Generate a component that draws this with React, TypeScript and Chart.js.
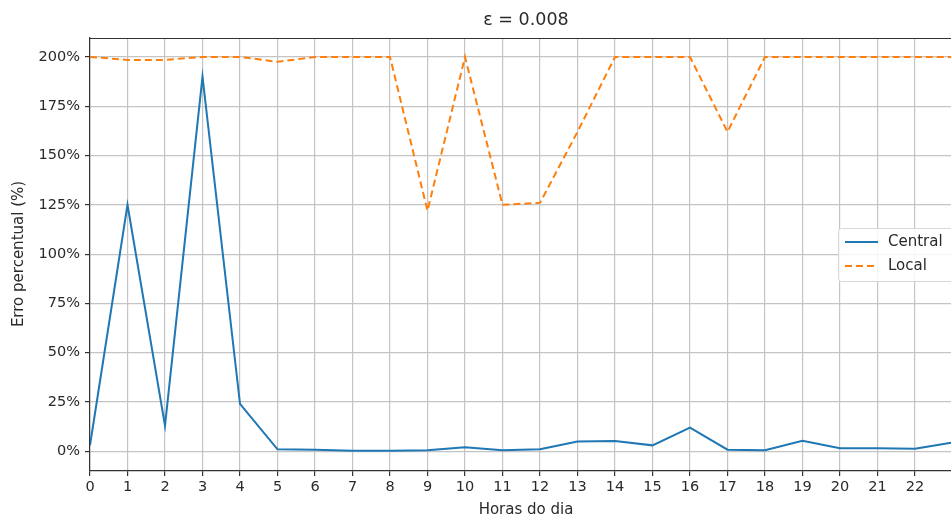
import React, { useEffect, useRef } from "react";
import { Chart, registerables } from "chart.js";

Chart.register(...registerables);

const hours = [0, 1, 2, 3, 4, 5, 6, 7, 8, 9, 10, 11, 12, 13, 14, 15, 16, 17, 18, 19, 20, 21, 22, 23];
const central = [3, 125, 13, 190, 24, 1, 0.8, 0.3, 0.3, 0.5, 2, 0.5, 1, 5, 5.2, 3, 12, 0.8, 0.5, 5.3, 1.5, 1.5, 1.3, 4.5];
const local = [200, 198.5, 198.5, 200, 200, 197.5, 200, 200, 200, 122, 200, 125, 126, 162, 200, 200, 200, 162, 200, 200, 200, 200, 200, 200];
const yTicks = [0, 25, 50, 75, 100, 125, 150, 175, 200];
const title = "ε = 0.008";
const xLabel = "Horas do dia";
const yLabel = "Erro percentual (%)";
const seriesNames = ["Central", "Local"];

const FONT = "'DejaVu Sans', sans-serif";
const BLUE = "#1f77b4";
const ORANGE = "#ff7f0e";
const TEXT = "#2a2a2a";

const decor = {
  id: "decor",
  afterDraw(chart: any) {
    const { ctx, chartArea } = chart;
    ctx.save();
    // top spine
    ctx.strokeStyle = "#333";
    ctx.lineWidth = 1.2;
    ctx.beginPath();
    ctx.moveTo(chartArea.left, chartArea.top + 0.5);
    ctx.lineTo(chartArea.right, chartArea.top + 0.5);
    ctx.stroke();
    // title
    ctx.fillStyle = TEXT;
    ctx.font = `17.5px ${FONT}`;
    ctx.textAlign = "center";
    ctx.textBaseline = "middle";
    ctx.fillText(title, 526, 20);
    // x label
    ctx.font = `15px ${FONT}`;
    ctx.fillText(xLabel, 526, 510);
    // y label
    ctx.save();
    ctx.translate(19, 254);
    ctx.rotate(-Math.PI / 2);
    ctx.fillText(yLabel, 0, 0);
    ctx.restore();
    // legend
    const lx = 838, ly = 228, lw = 120, lh = 53;
    ctx.fillStyle = "rgba(255,255,255,0.85)";
    ctx.strokeStyle = "#d8d8d8";
    ctx.lineWidth = 1;
    ctx.beginPath();
    ctx.roundRect(lx + 0.5, ly + 0.5, lw, lh, 3);
    ctx.fill();
    ctx.stroke();
    ctx.font = `15px ${FONT}`;
    ctx.textAlign = "left";
    ctx.fillStyle = TEXT;
    const rows = [
      { name: seriesNames[0], color: BLUE, dash: [] as number[] },
      { name: seriesNames[1], color: ORANGE, dash: [7, 4] },
    ];
    rows.forEach((r, i) => {
      const y = ly + 14 + i * 24;
      ctx.strokeStyle = r.color;
      ctx.lineWidth = 2;
      ctx.setLineDash(r.dash);
      ctx.beginPath();
      ctx.moveTo(lx + 7, y);
      ctx.lineTo(lx + 40, y);
      ctx.stroke();
      ctx.setLineDash([]);
      ctx.fillText(r.name, lx + 50, y);
    });
    ctx.restore();
  },
};

export default function App() {
  const ref = useRef<HTMLCanvasElement>(null);
  useEffect(() => {
    document.body.style.margin = "0";
    const chart = new Chart(ref.current!, {
      type: "line",
      data: {
        datasets: [
          {
            label: seriesNames[0],
            data: hours.map((h, i) => ({ x: h, y: central[i] })),
            borderColor: BLUE,
            borderWidth: 2,
            pointRadius: 0,
            tension: 0,
          },
          {
            label: seriesNames[1],
            data: hours.map((h, i) => ({ x: h, y: local[i] })),
            borderColor: ORANGE,
            borderWidth: 2,
            borderDash: [7, 4],
            pointRadius: 0,
            tension: 0,
          },
        ],
      },
      options: {
        animation: false,
        responsive: false,
        layout: { padding: { top: 38, right: 0, left: 0, bottom: 0 } },
        plugins: { legend: { display: false }, title: { display: false }, tooltip: { enabled: false } },
        scales: {
          x: {
            type: "linear",
            min: 0,
            max: 22.96,
            afterFit: (s: any) => { s.height = 49; },
            afterBuildTicks: (s: any) => { s.ticks = hours.filter((h) => h <= 22).map((v) => ({ value: v })); },
            ticks: { font: { family: FONT, size: 14.5 }, color: TEXT, padding: 3, maxRotation: 0, autoSkip: false },
            grid: { color: "#c4c4c4", lineWidth: 1.2, tickColor: "#333", tickLength: 5, drawTicks: true },
            border: { color: "#333", width: 1.2 },
          },
          y: {
            type: "linear",
            min: -10,
            max: 209.6,
            afterFit: (s: any) => { s.width = 90; },
            afterBuildTicks: (s: any) => { s.ticks = yTicks.map((v) => ({ value: v })); },
            ticks: { font: { family: FONT, size: 14.5 }, color: TEXT, padding: 5, callback: (v: any) => `${v}%` },
            grid: { color: "#c4c4c4", lineWidth: 1.2, tickColor: "#333", tickLength: 5 },
            border: { color: "#333", width: 1.2 },
          },
        },
      },
      plugins: [decor],
    });
    return () => chart.destroy();
  }, []);
  return (
    <div style={{ position: "absolute", left: 0, top: 0, width: 951, height: 520 }}>
      <canvas ref={ref} width={951} height={520} />
    </div>
  );
}
